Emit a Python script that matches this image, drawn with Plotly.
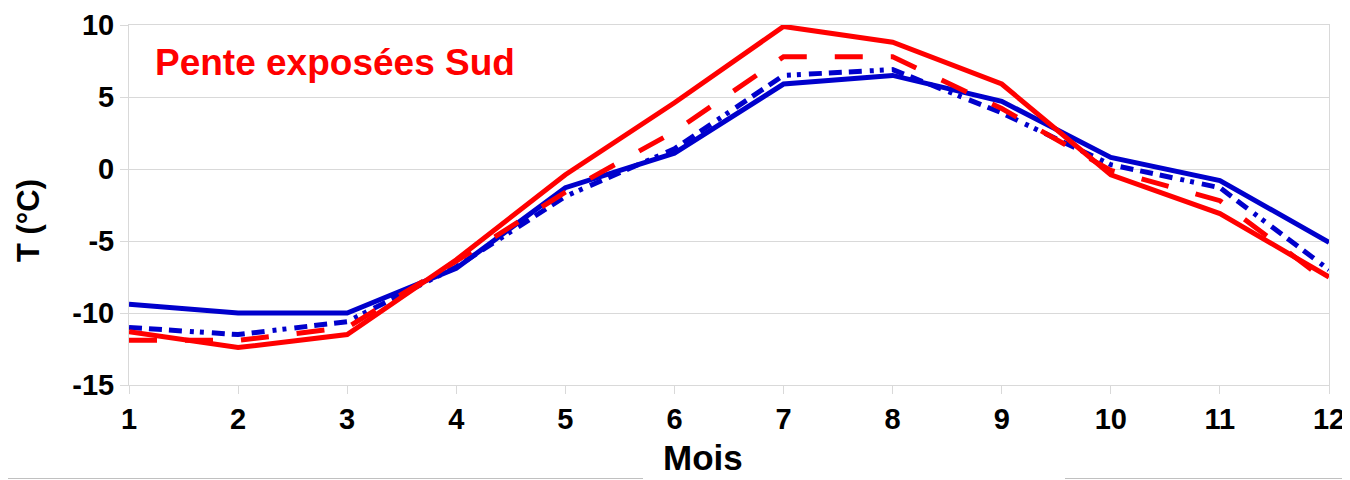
import plotly.graph_objects as go

months = [1, 2, 3, 4, 5, 6, 7, 8, 9, 10, 11, 12]
blue_solid = [-9.4, -10.0, -10.0, -6.9, -1.3, 1.1, 5.9, 6.5, 4.7, 0.8, -0.8, -5.1]
blue_dashdot = [-11.0, -11.5, -10.6, -6.8, -1.9, 1.4, 6.5, 6.9, 3.9, 0.3, -1.3, -7.0]
red_dashed = [-11.9, -11.9, -11.0, -6.4, -1.6, 2.6, 7.8, 7.8, 4.2, -0.1, -2.2, -7.9]
red_solid = [-11.3, -12.4, -11.5, -6.3, -0.4, 4.6, 9.9, 8.8, 5.9, -0.4, -3.1, -7.5]

y_ticks = [-15, -10, -5, 0, 5, 10]
y_tick_labels = ["-15", "-10", "-5", "0", "5", "10"]
x_tick_labels = [str(m) for m in months]
title_text = "Pente exposées Sud"
x_title = "Mois"
y_title = "T (°C)"

BLUE = "#0000cc"
RED = "#ff0000"
FONT = "Liberation Sans"

# page body has an 8px margin: figure is 1342x472, placed at (8, 8) in the window
OFF = 8
W, H = 1350 - OFF, 480 - OFF
PL, PR, PT, PB = 129 - OFF, 1329 - OFF, 25 - OFF, 385 - OFF


def px_x(wx):
    return (wx - OFF - PL) / (PR - PL)


def px_y(wy):
    return (PB - (wy - OFF)) / (PB - PT)


fig = go.Figure()
fig.add_trace(go.Scatter(x=months, y=blue_solid, mode="lines",
                         line=dict(color=BLUE, width=5)))
fig.add_trace(go.Scatter(x=months, y=blue_dashdot, mode="lines",
                         line=dict(color=BLUE, width=5,
                                   dash="13px,7px,13px,7px,13px,8px,4px,6px,4px,8px")))
fig.add_trace(go.Scatter(x=months, y=red_dashed, mode="lines",
                         line=dict(color=RED, width=5, dash="28px,28px")))
fig.add_trace(go.Scatter(x=months, y=red_solid, mode="lines",
                         line=dict(color=RED, width=5)))

fig.update_layout(
    width=W, height=H,
    margin=dict(l=PL, r=W - PR, t=PT, b=H - PB, autoexpand=False),
    paper_bgcolor="white", plot_bgcolor="white",
    showlegend=False,
    font=dict(family=FONT, color="black"),
    xaxis=dict(range=[1, 12], tickmode="array", tickvals=months, ticktext=x_tick_labels,
               showgrid=False, showline=True, linecolor="#d9d9d9", linewidth=1,
               mirror=True, ticks="outside", ticklen=8, tickcolor="#d9d9d9",
               tickfont=dict(family=FONT, size=29, color="black", weight="bold"),
               zeroline=False, fixedrange=True, automargin=False),
    yaxis=dict(range=[-15, 10], tickmode="array", tickvals=y_ticks, ticktext=y_tick_labels,
               showgrid=True, gridcolor="#d9d9d9", gridwidth=1,
               showline=True, linecolor="#d9d9d9", linewidth=1, mirror=True,
               ticks="outside", ticklen=8, tickcolor="#d9d9d9",
               tickfont=dict(family=FONT, size=29, color="black", weight="bold"),
               zeroline=False, fixedrange=True, automargin=False),
    annotations=[
        dict(text=title_text, xref="paper", yref="paper",
             x=px_x(153), y=px_y(63),
             xanchor="left", yanchor="middle", showarrow=False,
             font=dict(family=FONT, size=37, color=RED, weight="bold")),
        dict(text=x_title, xref="paper", yref="paper",
             x=px_x(703), y=px_y(457),
             xanchor="center", yanchor="middle", showarrow=False,
             font=dict(family=FONT, size=35, color="black", weight="bold")),
        dict(text=y_title, xref="paper", yref="paper",
             x=px_x(28), y=px_y(221), textangle=-90,
             xanchor="center", yanchor="middle", showarrow=False,
             font=dict(family=FONT, size=31, color="black", weight="bold")),
    ],
    shapes=[
        dict(type="line", xref="paper", yref="paper",
             x0=px_x(OFF), x1=px_x(643), y0=px_y(478.5), y1=px_y(478.5),
             line=dict(color="#c0c0c0", width=1)),
        dict(type="line", xref="paper", yref="paper",
             x0=px_x(1065), x1=px_x(1350), y0=px_y(478.5), y1=px_y(478.5),
             line=dict(color="#c0c0c0", width=1)),
    ],
)

fig.write_html("out.html")
